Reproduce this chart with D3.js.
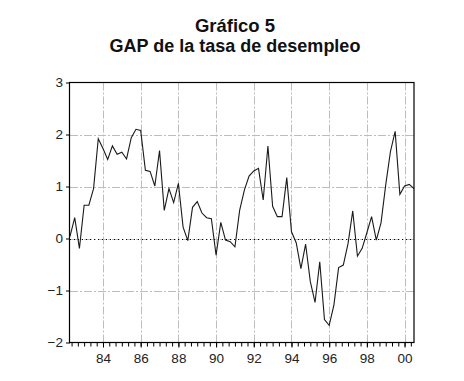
<!DOCTYPE html>
<html>
<head>
<meta charset="utf-8">
<script src="https://cdn.jsdelivr.net/npm/d3@7"></script>
<style>
  html, body { margin: 0; padding: 0; background: #fff; }
  svg { display: block; font-family: "Liberation Sans", Arial, sans-serif; }
</style>
</head>
<body>
<svg id="chart" width="464" height="381"></svg>
<script>
// ---- Data (quarterly, 1982Q2 .. 2000Q3) ----
const titleLines = ["Gráfico 5", "GAP de la tasa de desempleo"];
const startYear = 1982;
const startQuarter = 2;
const gap = [
  0.04, 0.40, -0.19, 0.64, 0.64, 0.96, 1.92, 1.73, 1.52, 1.78,
  1.62, 1.66, 1.53, 1.94, 2.10, 2.08, 1.31, 1.29, 1.01, 1.69,
  0.54, 0.96, 0.69, 1.06, 0.22, -0.04, 0.60, 0.71, 0.49, 0.40,
  0.38, -0.32, 0.31, -0.03, -0.06, -0.16, 0.54, 0.93, 1.20, 1.30,
  1.35, 0.74, 1.78, 0.62, 0.42, 0.42, 1.17, 0.13, -0.08, -0.58,
  -0.11, -0.83, -1.23, -0.45, -1.56, -1.67, -1.28, -0.56, -0.51, -0.10,
  0.53, -0.34, -0.19, 0.11, 0.42, -0.03, 0.30, 1.03, 1.67, 2.06,
  0.85, 1.01, 1.04, 0.96
];
const xTickYears = [1984, 1986, 1988, 1990, 1992, 1994, 1996, 1998, 2000];
const xTickLabels = ["84", "86", "88", "90", "92", "94", "96", "98", "00"];
const yTicks = [-2, -1, 0, 1, 2, 3];
const yGrid = [-1, 1, 2];

// ---- Layout ----
const svg = d3.select("#chart");
const mLeft = 70, mRight = 414, mTop = 82.5, mBottom = 342.5;

const x = d3.scaleLinear().domain([0, gap.length - 1]).range([mLeft, mRight]);
const y = d3.scaleLinear().domain([-2, 3]).range([mBottom, mTop]);

// index of first quarter of a given year
const idxOfYear = yr => (yr - startYear) * 4 + (1 - startQuarter);
const majorIdx = xTickYears.map(idxOfYear);

// minor tick positions (six divisions between labelled years)
const minorIdx = [];
const step = (majorIdx[1] - majorIdx[0]) / 6;
for (let v = majorIdx[0]; v >= 0; v -= step) minorIdx.push(v);
for (let v = majorIdx[0] + step; v <= gap.length - 1 + 1e-9; v += step) minorIdx.push(v);

// ---- Title ----
svg.append("text")
  .attr("x", 235).attr("y", 32)
  .attr("text-anchor", "middle")
  .attr("font-size", 18.5).attr("font-weight", "bold").attr("fill", "#111")
  .text(titleLines[0]);
svg.append("text")
  .attr("x", 235).attr("y", 52)
  .attr("text-anchor", "middle")
  .attr("font-size", 18).attr("font-weight", "bold").attr("fill", "#111")
  .text(titleLines[1]);

// ---- Grid ----
const grid = svg.append("g");
grid.selectAll("line.vg").data(majorIdx).join("line")
  .attr("class", "vg")
  .attr("x1", d => Math.round(x(d)) + 0.5).attr("x2", d => Math.round(x(d)) + 0.5)
  .attr("y1", mTop).attr("y2", mBottom)
  .attr("stroke", "#bdbdbd").attr("stroke-width", 1)
  .attr("stroke-dasharray", "8,2,2,2");
grid.selectAll("line.hg").data(yGrid).join("line")
  .attr("class", "hg")
  .attr("x1", mLeft).attr("x2", mRight)
  .attr("y1", d => Math.round(y(d)) + 0.5).attr("y2", d => Math.round(y(d)) + 0.5)
  .attr("stroke", "#bdbdbd").attr("stroke-width", 1)
  .attr("stroke-dasharray", "8,2,2,2");
// zero line
grid.append("line")
  .attr("x1", mLeft).attr("x2", mRight)
  .attr("y1", Math.round(y(0)) + 0.5).attr("y2", Math.round(y(0)) + 0.5)
  .attr("stroke", "#bdbdbd").attr("stroke-width", 1)
  .attr("stroke-dasharray", "8,2,2,2");
grid.append("line")
  .attr("x1", mLeft).attr("x2", mRight)
  .attr("y1", Math.round(y(0)) + 0.5).attr("y2", Math.round(y(0)) + 0.5)
  .attr("stroke", "#000").attr("stroke-width", 1)
  .attr("stroke-dasharray", "1,3");

// ---- Series ----
const line = d3.line().x((d, i) => x(i)).y(d => y(d));
svg.append("path")
  .datum(gap)
  .attr("d", line)
  .attr("fill", "none")
  .attr("stroke", "#1a1a1a")
  .attr("stroke-width", 1.1)
  .attr("stroke-linejoin", "miter");

// ---- Frame ----
svg.append("rect")
  .attr("x", mLeft - 0.5).attr("y", mTop)
  .attr("width", mRight - mLeft + 0.5).attr("height", mBottom - mTop)
  .attr("fill", "none").attr("stroke", "#000").attr("stroke-width", 1.2);

// ---- Axes ----
const xMinor = d3.axisBottom(x).tickValues(minorIdx).tickSize(4).tickFormat("");
const gxm = svg.append("g").attr("transform", `translate(0,${mBottom})`).call(xMinor);
gxm.select(".domain").remove();
gxm.selectAll("line").attr("stroke", "#000");

const xMajor = d3.axisBottom(x).tickValues(majorIdx).tickSize(5).tickPadding(6)
  .tickFormat((d, i) => xTickLabels[i]);
const gx = svg.append("g").attr("transform", `translate(0,${mBottom})`).call(xMajor);
gx.select(".domain").remove();
gx.selectAll("line").attr("stroke", "#000");
gx.selectAll("text").attr("font-size", 13.5).attr("fill", "#222")
  .attr("font-family", "\"Liberation Sans\", Arial, sans-serif");

const yAxis = d3.axisLeft(y).tickValues(yTicks).tickSize(4).tickPadding(3)
  .tickFormat(d3.format("d"));
const gy = svg.append("g").attr("transform", `translate(${mLeft},0)`).call(yAxis);
gy.select(".domain").remove();
gy.selectAll("line").attr("stroke", "#000");
gy.selectAll("text").attr("font-size", 13.5).attr("fill", "#222")
  .attr("font-family", "\"Liberation Sans\", Arial, sans-serif");
</script>
</body>
</html>
